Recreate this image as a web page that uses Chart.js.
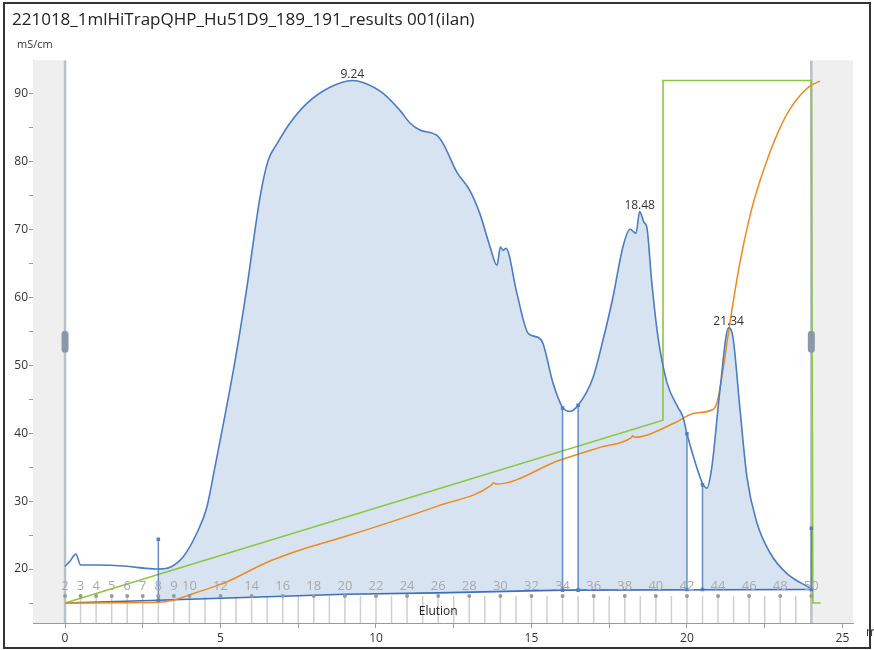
<!DOCTYPE html>
<html>
<head>
<meta charset="utf-8">
<script src="https://cdn.jsdelivr.net/npm/chart.js@4.4.1/dist/chart.umd.min.js"></script>
<style>
  body { margin: 0; background: #fff; }
  canvas { display: block; }
</style>
</head>
<body>
<canvas id="chromChart" width="874" height="650"></canvas>
<script>
const titleText = '221018_1mlHiTrapQHP_Hu51D9_189_191_results 001(ilan)';

// UV trace
const uvX = [0, 0.15, 0.35, 0.5, 1.0, 2.0, 2.6, 3.0, 3.4, 3.8, 4.24, 4.56, 4.82, 5.05, 5.47, 5.85, 6.27, 6.53, 6.82, 7.23, 7.77, 8.52, 9.24, 9.58, 10.23, 10.77, 11.1, 11.41, 11.96, 12.16, 12.6, 13.02, 13.34, 13.67, 13.89, 14.0, 14.09, 14.18, 14.53, 14.89, 15.21, 15.37, 15.69, 16.0, 16.24, 16.5, 16.98, 17.3, 17.62, 17.94, 18.17, 18.36, 18.48, 18.62, 18.71, 18.87, 19.07, 19.36, 19.71, 19.87, 20.0, 20.42, 20.5, 20.64, 20.8, 21.06, 21.34, 21.48, 21.7, 21.93, 22.25, 22.67, 23.2, 24.0];
const uvY = [20.4, 21.1, 22.2, 20.6, 20.6, 20.4, 20.1, 20.0, 20.3, 21.8, 25.3, 29.1, 35.0, 40.4, 50.7, 61.5, 74.7, 80.1, 82.6, 85.6, 88.5, 90.9, 91.9, 91.6, 90.0, 87.5, 85.6, 84.6, 83.8, 82.6, 78.4, 75.7, 72.3, 67.4, 64.7, 67.4, 66.9, 67.2, 60.6, 54.7, 54.1, 53.2, 47.4, 43.8, 43.2, 44.1, 48.2, 53.7, 60.0, 67.4, 70.0, 69.4, 72.6, 71.0, 70.3, 62.1, 54.1, 47.4, 43.8, 42.4, 39.9, 33.5, 32.6, 31.9, 35.0, 46.3, 55.5, 54.1, 43.8, 33.5, 26.8, 22.4, 19.4, 17.1];

// conductivity
const condX = [0, 3.0, 3.47, 4.0, 4.9, 5.2, 6.5, 7.56, 9.16, 12.0, 13.7, 13.78, 13.86, 15.9, 17.2, 18.2, 18.26, 18.32, 19.6, 20.2, 20.8, 20.96, 21.16, 21.38, 21.7, 22.0, 22.25, 22.6, 23.0, 23.3, 23.7, 24.0, 24.28];
const condY = [15.0, 15.1, 15.4, 16.2, 17.6, 18.1, 21.0, 22.8, 25.0, 29.3, 32.3, 32.7, 32.5, 36.0, 37.9, 39.3, 39.6, 39.4, 41.5, 42.9, 43.4, 44.4, 49.3, 56.2, 65.0, 71.5, 75.7, 80.5, 85.0, 87.6, 90.0, 91.2, 91.8];

// concentration B
const concX = [0, 19.23, 19.23, 24.0, 24.05, 24.3];
const concY = [15.0, 41.9, 91.9, 91.9, 15.0, 15.0];

// peak baseline
const baseX = [0, 3, 9, 12, 16, 24];
const baseY = [15.0, 15.4, 16.3, 16.5, 16.9, 17.0];

// integrated regions
const regionStart = [3.0, 16.5, 20.5];
const regionEnd = [16.0, 20.0, 24.0];

// peak limit markers
const dropX = [3.0, 16.0, 16.5, 20.0, 20.5, 24.0];
const dropTop = [24.4, 43.7, 44.1, 39.9, 32.4, 26.0];
const dropBottom = [15.4, 16.9, 16.9, 17.0, 17.0, 17.0];

const peakX = [9.24, 18.48, 21.34];
const peakY = [91.9, 72.6, 55.5];
const peakText = ['9.24', '18.48', '21.34'];

// fractions
const fracX = [0, 0.5, 1, 1.5, 2, 2.5, 3, 3.5, 4, 4.5, 5, 5.5, 6, 6.5, 7, 7.5, 8, 8.5, 9, 9.5, 10, 10.5, 11, 11.5, 12, 12.5, 13, 13.5, 14, 14.5, 15, 15.5, 16, 16.5, 17, 17.5, 18, 18.5, 19, 19.5, 20, 20.5, 21, 21.5, 22, 22.5, 23, 23.5, 24];
const fracLabels = ['2', '3', '4', '5', '6', '7', '8', '9', '10', '', '12', '', '14', '', '16', '', '18', '', '20', '', '22', '', '24', '', '26', '', '28', '', '30', '', '32', '', '34', '', '36', '', '38', '', '40', '', '42', '', '44', '', '46', '', '48', '', '50'];

const FONT = "'Open Sans', 'Noto Sans', sans-serif";
const uvColor = '#4a7dc2';
const fillColor = 'rgba(183, 204, 229, 0.55)';

const pts = (xs, ys) => xs.map((x, i) => ({x: x, y: ys[i]}));
const uvPts = pts(uvX, uvY);

const datasets = [
  {data: uvPts, borderColor: uvColor, borderWidth: 1.6, pointRadius: 0, cubicInterpolationMode: 'monotone', order: 2},
  {data: pts(condX, condY), borderColor: '#f08a1c', borderWidth: 1.5, pointRadius: 0, cubicInterpolationMode: 'monotone', order: 3},
  {data: pts(concX, concY), borderColor: '#8cc63f', borderWidth: 1.6, pointRadius: 0, tension: 0, order: 4},
  {data: pts(baseX, baseY), borderColor: '#3b6fbf', borderWidth: 1.6, pointRadius: 0, tension: 0, order: 5}
];

regionStart.forEach((s, i) => {
  datasets.push({
    data: uvPts.filter(p => p.x >= s && p.x <= regionEnd[i]),
    borderWidth: 0,
    borderColor: 'rgba(0,0,0,0)',
    backgroundColor: fillColor,
    pointRadius: 0,
    cubicInterpolationMode: 'monotone',
    fill: {target: 3},
    order: 10
  });
});

dropX.forEach((x, i) => {
  datasets.push({
    data: [{x: x, y: dropBottom[i]}, {x: x, y: dropTop[i]}],
    borderColor: 'rgba(74,125,194,0.85)',
    backgroundColor: 'rgba(74,125,194,0.95)',
    borderWidth: 1.5,
    pointStyle: 'rect',
    pointRadius: 2.5,
    pointBorderWidth: 0,
    tension: 0,
    order: 1
  });
});

const decor = {
  id: 'decor',
  beforeDatasetsDraw(chart) {
    const {ctx, chartArea: a, scales: {x}} = chart;
    const x0 = x.getPixelForValue(0), x24 = x.getPixelForValue(24);
    ctx.save();
    ctx.fillStyle = '#efefef';
    ctx.fillRect(a.left, a.top, x0 - a.left, a.bottom - a.top);
    ctx.fillRect(x24, a.top, a.right - x24, a.bottom - a.top);
    // fraction lines
    ctx.strokeStyle = '#cfcfcf';
    ctx.lineWidth = 1.5;
    fracX.forEach(f => {
      const px = x.getPixelForValue(f);
      ctx.beginPath();
      ctx.moveTo(px, a.bottom - 27);
      ctx.lineTo(px, a.bottom);
      ctx.stroke();
    });
    // slider lines
    ctx.strokeStyle = '#b9c0c8';
    ctx.lineWidth = 2.5;
    [x0, x24].forEach(px => {
      ctx.beginPath();
      ctx.moveTo(px, a.top);
      ctx.lineTo(px, a.bottom);
      ctx.stroke();
    });
    ctx.restore();
  },
  afterDatasetsDraw(chart) {
    const {ctx, chartArea: a, scales: {x, y}} = chart;
    ctx.save();
    // fraction labels and dots
    ctx.font = '13px ' + FONT;
    ctx.textAlign = 'center';
    ctx.textBaseline = 'middle';
    fracX.forEach((f, i) => {
      if (!fracLabels[i]) return;
      const px = x.getPixelForValue(f);
      ctx.fillStyle = '#a9a9a9';
      ctx.fillText(fracLabels[i], px, a.bottom - 37);
      ctx.fillStyle = '#9a9a9a';
      ctx.beginPath();
      ctx.arc(px, a.bottom - 27, 2, 0, Math.PI * 2);
      ctx.fill();
    });
    ctx.fillStyle = '#222';
    ctx.font = '12px ' + FONT;
    ctx.fillText('Elution', x.getPixelForValue(12.0), a.bottom - 11);
    // peak labels
    ctx.fillStyle = '#333';
    peakX.forEach((p, i) => {
      ctx.fillText(peakText[i], x.getPixelForValue(p), y.getPixelForValue(peakY[i]) - 6);
    });
    // slider handles
    ctx.fillStyle = '#8a98a9';
    const cy = (a.top + a.bottom) / 2;
    [0, 24].forEach(v => {
      const px = x.getPixelForValue(v);
      ctx.beginPath();
      ctx.roundRect(px - 3.5, cy - 11, 7, 22, 3.5);
      ctx.fill();
    });
    ctx.restore();
  },
  afterDraw(chart) {
    const {ctx} = chart;
    ctx.save();
    ctx.fillStyle = '#333';
    ctx.font = '11px ' + FONT;
    ctx.textAlign = 'left';
    ctx.textBaseline = 'middle';
    ctx.fillText('mS/cm', 17, 45);
    ctx.font = '12px ' + FONT;
    ctx.fillText('ml', 866, 633);
    ctx.strokeStyle = '#333';
    ctx.lineWidth = 2;
    ctx.strokeRect(4, 3, 866, 645);
    ctx.restore();
  }
};

new Chart(document.getElementById('chromChart'), {
  type: 'line',
  data: {datasets: datasets},
  options: {
    responsive: false,
    animation: false,
    layout: {padding: {left: 12, right: 21, top: 0, bottom: 0}},
    plugins: {
      legend: {display: false},
      tooltip: {enabled: false},
      title: {
        display: true,
        text: titleText,
        align: 'start',
        color: '#222',
        font: {family: FONT, size: 17, weight: 'normal'},
        padding: {top: 10, bottom: 30}
      }
    },
    scales: {
      x: {
        type: 'linear',
        min: -1.03,
        max: 25.34,
        afterFit: s => { s.height = 27; },
        border: {display: true, color: '#9a9a9a'},
        grid: {drawOnChartArea: false, tickLength: 5, color: '#9a9a9a'},
        ticks: {
          stepSize: 2.5,
          includeBounds: false,
          maxRotation: 0,
          autoSkip: false,
          padding: 3,
          color: '#333',
          font: {family: FONT, size: 12},
          callback: v => (v % 5 === 0 ? v : '')
        }
      },
      y: {
        min: 12.06,
        max: 94.85,
        afterFit: s => { s.width = 21; },
        border: {display: true, color: '#9a9a9a'},
        grid: {drawOnChartArea: false, tickLength: 4, color: '#9a9a9a'},
        ticks: {
          stepSize: 5,
          includeBounds: false,
          autoSkip: false,
          padding: 1,
          color: '#333',
          font: {family: FONT, size: 12},
          callback: v => (v >= 20 && v % 10 === 0 ? v : '')
        }
      }
    }
  },
  plugins: [decor]
});
</script>
</body>
</html>
